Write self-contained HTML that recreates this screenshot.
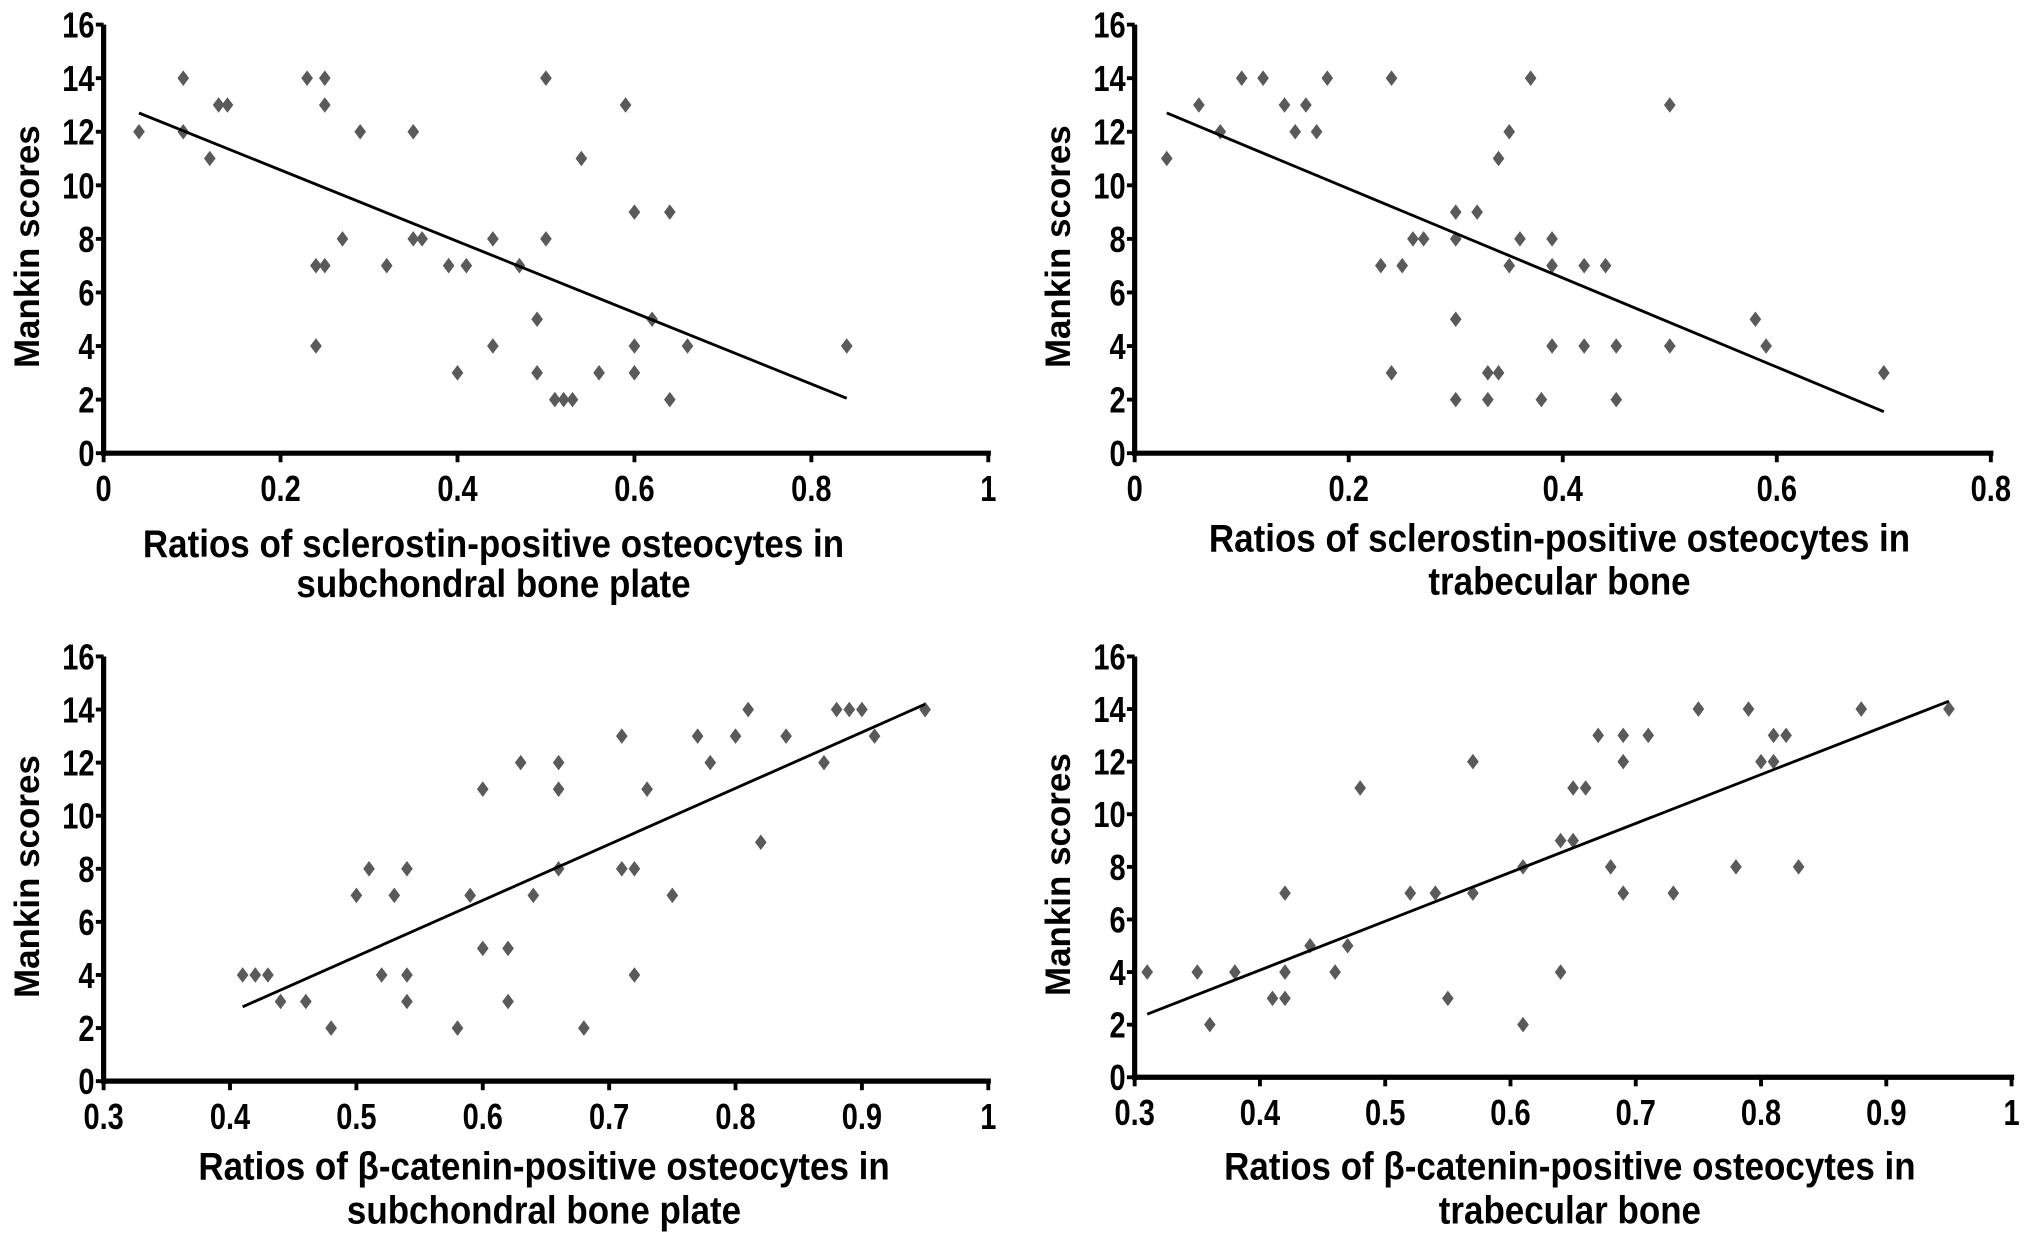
<!DOCTYPE html>
<html><head><meta charset="utf-8"><style>
html,body{margin:0;padding:0;background:#fff;}
svg{display:block;}
text{font-family:"Liberation Sans",Arial,sans-serif;font-weight:bold;fill:#000;}
</style></head><body>
<svg id="fig" width="2031" height="1243" viewBox="0 0 1568 960" preserveAspectRatio="none" xmlns="http://www.w3.org/2000/svg"></svg>
<script>
const p1x=[0.04,0.09,0.09,0.12,0.13,0.14,0.23,0.25,0.25,0.24,0.25,0.24,0.27,0.29,0.32,0.35,0.35,0.36,0.39,0.41,0.40,0.44,0.44,0.47,0.49,0.49,0.50,0.50,0.51,0.52,0.53,0.54,0.56,0.59,0.60,0.60,0.60,0.62,0.64,0.64,0.66,0.84];
const p1y=[12,14,12,11,13,13,14,14,13,7,7,4,8,12,7,12,8,8,7,7,3,8,4,7,5,3,14,8,2,2,2,11,3,13,9,4,3,5,9,2,4,4];
const p1fit=[[0.04,12.7],[0.84,2.05]];
const p2x=[0.03,0.06,0.08,0.10,0.12,0.14,0.16,0.15,0.17,0.18,0.24,0.24,0.23,0.25,0.26,0.27,0.30,0.32,0.30,0.30,0.30,0.33,0.34,0.33,0.34,0.35,0.35,0.36,0.37,0.38,0.39,0.39,0.39,0.42,0.42,0.44,0.45,0.45,0.50,0.50,0.58,0.59,0.70];
const p2y=[11,13,12,14,14,13,13,12,12,14,14,3,7,7,8,8,9,9,8,5,2,3,3,2,11,12,7,8,14,2,8,7,4,7,4,7,4,2,13,4,5,4,3];
const p2fit=[[0.03,12.7],[0.70,1.55]];
const p3x=[0.41,0.42,0.43,0.44,0.46,0.48,0.50,0.51,0.52,0.53,0.54,0.54,0.54,0.58,0.59,0.60,0.60,0.62,0.62,0.63,0.64,0.66,0.66,0.66,0.68,0.71,0.71,0.72,0.72,0.73,0.75,0.77,0.78,0.80,0.81,0.82,0.84,0.87,0.88,0.89,0.90,0.91,0.95];
const p3y=[4,4,4,3,3,2,7,8,4,7,8,4,3,2,7,11,5,5,3,12,7,12,11,8,2,13,8,8,4,11,7,13,12,13,14,9,13,12,14,14,14,13,14];
const p3fit=[[0.41,2.8],[0.95,14.2]];
const p4x=[0.31,0.35,0.36,0.38,0.41,0.42,0.42,0.42,0.44,0.46,0.47,0.48,0.52,0.54,0.55,0.57,0.57,0.61,0.61,0.64,0.64,0.65,0.65,0.66,0.67,0.68,0.69,0.69,0.69,0.71,0.73,0.75,0.78,0.79,0.80,0.81,0.81,0.82,0.83,0.88,0.95];
const p4y=[4,4,2,4,3,3,4,7,5,4,5,11,7,7,3,12,7,8,2,9,4,11,9,11,13,8,13,12,7,13,7,14,8,14,12,13,12,13,8,14,14];
const p4fit=[[0.31,2.4],[0.95,14.3]];
const xt1=["0","0.2","0.4","0.6","0.8","1"];
const xt2=["0","0.2","0.4","0.6","0.8"];
const xt34=["0.3","0.4","0.5","0.6","0.7","0.8","0.9","1"];
const yt=["0","2","4","6","8","10","12","14","16"];

const NS="http://www.w3.org/2000/svg";
const svg=document.getElementById('fig');
function mk(tag,attrs,parent){const e=document.createElementNS(NS,tag);for(const k in attrs)e.setAttribute(k,attrs[k]);(parent||svg).appendChild(e);return e;}

const panels=[
 {id:'scl-subchondral',xs:p1x,ys:p1y,fit:p1fit,xt:xt1,xmin:0,xmax:1,x0:80,x1:763,y0:350,y16:19,t1:"Ratios of sclerostin-positive osteocytes in",t2:"subchondral bone plate",tx:381,ty1:430,ty2:461},
 {id:'scl-trabecular',xs:p2x,ys:p2y,fit:p2fit,xt:xt2,xmin:0,xmax:0.8,x0:876,x1:1537,y0:350,y16:19,t1:"Ratios of sclerostin-positive osteocytes in",t2:"trabecular bone",tx:1204,ty1:426,ty2:459},
 {id:'bcat-subchondral',xs:p3x,ys:p3y,fit:p3fit,xt:xt34,xmin:0.3,xmax:1,x0:80,x1:763,y0:835,y16:507,t1:"Ratios of β-catenin-positive osteocytes in",t2:"subchondral bone plate",tx:420,ty1:911,ty2:945},
 {id:'bcat-trabecular',xs:p4x,ys:p4y,fit:p4fit,xt:xt34,xmin:0.3,xmax:1,x0:876,x1:1553,y0:832,y16:507,t1:"Ratios of β-catenin-positive osteocytes in",t2:"trabecular bone",tx:1212,ty1:911,ty2:945}
];

panels.forEach(p=>{
 const g=mk('g',{});
 
 
 const sx=v=>p.x0+(v-p.xmin)/(p.xmax-p.xmin)*(p.x1-p.x0);
 const sy=v=>p.y0-(v/16)*(p.y0-p.y16);
 const xa=mk('line',{x1:p.x0-2,y1:p.y0,x2:p.x1+2,y2:p.y0,stroke:'#000','stroke-width':4},g);
 
 
 const ya=mk('line',{x1:p.x0,y1:p.y0+2,x2:p.x0,y2:p.y16,stroke:'#000','stroke-width':4},g);
 
 
 p.xt.forEach(t=>{
  const x=sx(parseFloat(t));
  mk('line',{x1:x,y1:p.y0,x2:x,y2:p.y0+7,stroke:'#000','stroke-width':3},g);
  const tx=mk('text',{x:x,y:p.y0+37,'text-anchor':'middle','font-size':28,transform:`translate(${x},0) scale(0.8,1) translate(${-x},0)`},g);
  tx.textContent=t;
  
  
 });
 yt.forEach(t=>{
  const y=sy(parseFloat(t));
  mk('line',{x1:p.x0-6,y1:y,x2:p.x0,y2:y,stroke:'#000','stroke-width':3},g);
  const tx=mk('text',{x:p.x0-7,y:y+10,'text-anchor':'end','font-size':28,transform:`translate(${p.x0-7},0) scale(0.8,1) translate(${-(p.x0-7)},0)`},g);
  tx.textContent=t;
  
  
 });
 const yc=(p.y0+p.y16)/2+6;
 const ytl=mk('text',{x:0,y:0,'text-anchor':'middle','font-size':27,transform:`translate(${p.x0-50},${yc}) rotate(-90)`},g);
 ytl.textContent='Mankin scores';
 
 
 [p.t1,p.t2].forEach((s,i)=>{
  const yy=i?p.ty2:p.ty1;
  const t=mk('text',{x:p.tx,y:yy,'text-anchor':'middle','font-size':30,transform:`translate(${p.tx},0) scale(0.9,1) translate(${-p.tx},0)`},g);
  t.textContent=s;
  
  
 });
 p.xs.forEach((xv,i)=>{
  const cx=sx(xv),cy=sy(p.ys[i]);
  const d=mk('polygon',{points:`${cx},${cy-6} ${cx+4.5},${cy} ${cx},${cy+6} ${cx-4.5},${cy}`,fill:'#5a5a5a'},g);
  
  
 });
 const f=p.fit;
 const l=mk('line',{x1:sx(f[0][0]),y1:sy(f[0][1]),x2:sx(f[1][0]),y2:sy(f[1][1]),stroke:'#000','stroke-width':2.2},g);
 
 
});
</script>
</body></html>
